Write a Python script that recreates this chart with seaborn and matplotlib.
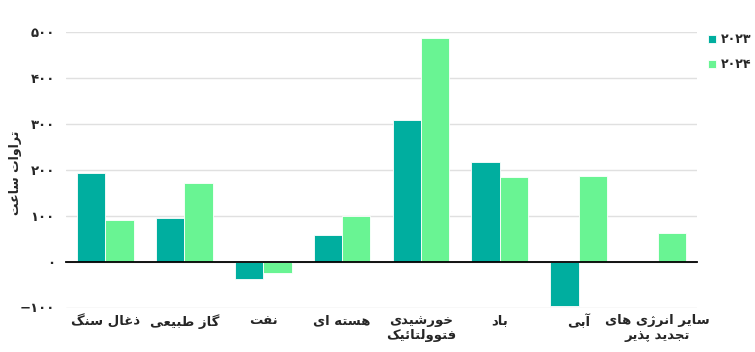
import matplotlib
matplotlib.use("Agg")
import matplotlib.pyplot as plt
import seaborn as sns
import pandas as pd

# ---- data ----
categories = ["ذغال سنگ", "گاز طبیعی", "نفت", "هسته ای", "خورشیدی\nفتوولتائیک",
              "باد", "آبی", "سایر انرژی های\nتجدید پذیر"]
series_names = ["۲۰۲۳", "۲۰۲۴"]
values_2023 = [193, 96, -39, 57, 309, 217, -96, 2]
values_2024 = [91, 171, -24, 100, 486, 185, 187, 62]
y_ticks = [-100, 0, 100, 200, 300, 400, 500]
y_tick_labels = ["\u2212۱۰۰", "۰", "۱۰۰", "۲۰۰", "۳۰۰", "۴۰۰", "۵۰۰"]
y_title = "تراوات ساعت"
colors = ["#00AE9F", "#69F493"]

# ---- minimal Arabic-script shaping (matplotlib has no complex text layout) ----
FORMS = {
    'ا': ('\uFE8D', '\uFE8E', None, None),
    'آ': ('\uFE81', '\uFE82', None, None),
    'ب': ('\uFE8F', '\uFE90', '\uFE91', '\uFE92'),
    'پ': ('\uFB56', '\uFB57', '\uFB58', '\uFB59'),
    'ت': ('\uFE95', '\uFE96', '\uFE97', '\uFE98'),
    'ج': ('\uFE9D', '\uFE9E', '\uFE9F', '\uFEA0'),
    'خ': ('\uFEA5', '\uFEA6', '\uFEA7', '\uFEA8'),
    'د': ('\uFEA9', '\uFEAA', None, None),
    'ذ': ('\uFEAB', '\uFEAC', None, None),
    'ر': ('\uFEAD', '\uFEAE', None, None),
    'ز': ('\uFEAF', '\uFEB0', None, None),
    'ژ': ('\uFB8A', '\uFB8B', None, None),
    'س': ('\uFEB1', '\uFEB2', '\uFEB3', '\uFEB4'),
    'ش': ('\uFEB5', '\uFEB6', '\uFEB7', '\uFEB8'),
    'ط': ('\uFEC1', '\uFEC2', '\uFEC3', '\uFEC4'),
    'ع': ('\uFEC9', '\uFECA', '\uFECB', '\uFECC'),
    'غ': ('\uFECD', '\uFECE', '\uFECF', '\uFED0'),
    'ف': ('\uFED1', '\uFED2', '\uFED3', '\uFED4'),
    'ک': ('\uFB8E', '\uFB8F', '\uFB90', '\uFB91'),
    'گ': ('\uFB92', '\uFB93', '\uFB94', '\uFB95'),
    'ل': ('\uFEDD', '\uFEDE', '\uFEDF', '\uFEE0'),
    'ن': ('\uFEE5', '\uFEE6', '\uFEE7', '\uFEE8'),
    'ه': ('\uFEE9', '\uFEEA', '\uFEEB', '\uFEEC'),
    'و': ('\uFEED', '\uFEEE', None, None),
    'ی': ('\uFBFC', '\uFBFD', '\uFBFE', '\uFBFF'),
    'ئ': ('\uFE89', '\uFE8A', '\uFE8B', '\uFE8C'),
}


def shape_line(s):
    out = []
    n = len(s)
    for i, ch in enumerate(s):
        if ch not in FORMS:
            out.append(ch)
            continue
        prev = s[i - 1] if i > 0 else None
        nxt = s[i + 1] if i < n - 1 else None
        f = FORMS[ch]
        jp = prev in FORMS and FORMS[prev][2] is not None
        jn = f[2] is not None and nxt in FORMS
        if jp and jn:
            g = f[3]
        elif jp:
            g = f[1]
        elif jn:
            g = f[2]
        else:
            g = f[0]
        out.append(g)
    return ''.join(reversed(out))


def shape(s):
    return '\n'.join(shape_line(l) for l in s.split('\n'))


# ---- build table ----
df = pd.DataFrame({
    "cat": categories * 2,
    "year": [series_names[0]] * len(categories) + [series_names[1]] * len(categories),
    "val": values_2023 + values_2024,
})

sns.set_style("white")
plt.rcParams['font.family'] = ['DejaVu Sans']
plt.rcParams['axes.unicode_minus'] = True

fig = plt.figure(figsize=(7.55, 3.52), dpi=100)
ax = fig.add_axes([66 / 755, 1 - 307.5 / 352, (697 - 66) / 755, (307.5 - 32) / 352])

sns.barplot(data=df, x="cat", y="val", hue="year", order=categories,
            hue_order=series_names, palette=colors, saturation=1,
            width=0.72, edgecolor="white", linewidth=0.6, ax=ax, legend=True)

ax.set_xlim(-0.5, len(categories) - 0.5)
ax.set_ylim(-100, 500)
ax.set_yticks(y_ticks)
ax.set_yticklabels(y_tick_labels, fontweight="bold", fontsize=9.5)
ax.yaxis.grid(True, color="#e0e0e0", linewidth=1)
ax.set_axisbelow(True)
ax.tick_params(axis="y", length=0, pad=8)

for s in ["top", "right", "left"]:
    ax.spines[s].set_visible(False)
ax.spines["bottom"].set_position(("data", 0))
ax.spines["bottom"].set_color("black")
ax.spines["bottom"].set_linewidth(1.3)
ax.spines["bottom"].set_zorder(5)

ax.set_xticks(range(len(categories)))
ax.set_xticklabels([shape(c) for c in categories], fontweight="bold", fontsize=9.5,
                   linespacing=1.15)
ax.tick_params(axis="x", which="major", length=0, pad=38)
ax.set_xticks([i - 0.5 for i in range(len(categories) + 1)], minor=True)
ax.tick_params(axis="x", which="minor", length=5, width=1.3, color="black", direction="out")

ax.set_xlabel("")
ax.set_ylabel(shape(y_title), fontweight="bold", fontsize=9)
ax.yaxis.set_label_coords(-0.07, 0.49)

handles, labels = ax.get_legend_handles_labels()
ax.legend(handles, labels, loc="upper left", bbox_to_anchor=(1.017, 0.995),
          frameon=False, handlelength=0.7, handleheight=0.7, handletextpad=0.35,
          labelspacing=0.95, borderpad=0, borderaxespad=0,
          prop={"weight": "bold", "size": 9})

fig.savefig("out.png", dpi=100)
